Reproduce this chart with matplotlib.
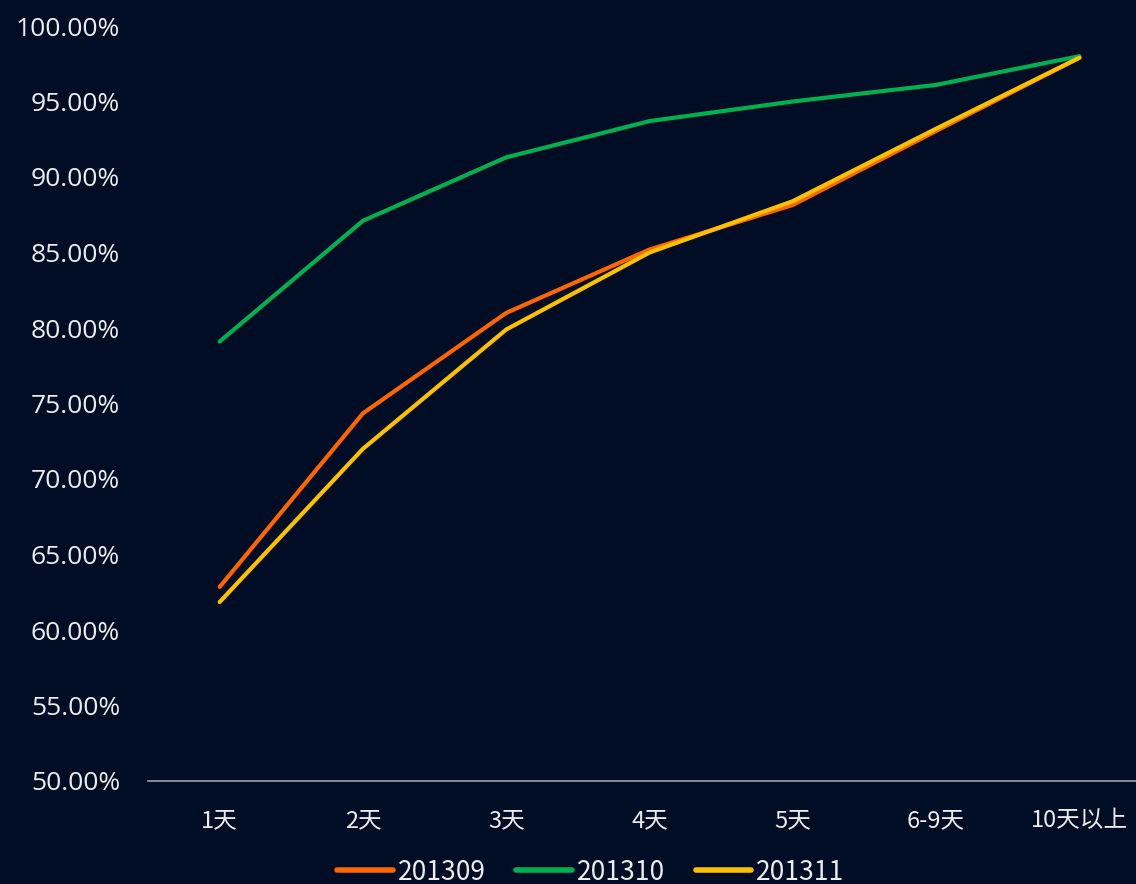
import matplotlib
matplotlib.use("Agg")
from matplotlib import pyplot as plt
from matplotlib.ticker import PercentFormatter

categories = ["1天", "2天", "3天", "4天", "5天", "6-9天", "10天以上"]
s201309 = [62.85, 74.35, 81.0, 85.2, 88.15, 93.05, 97.9]
s201310 = [79.1, 87.1, 91.3, 93.7, 95.0, 96.1, 98.0]
s201311 = [61.85, 72.0, 79.9, 85.0, 88.4, 93.2, 97.9]
series_names = ["201309", "201310", "201311"]
colors = ["#FF6600", "#00B050", "#FFC000"]

bg = "#000d24"
txt = "#ececec"
cjk = ["Noto Sans CJK SC", "DejaVu Sans"]

W, H = 1136, 884
fig = plt.figure(figsize=(W / 100, H / 100), dpi=100, facecolor=bg)
ax = fig.add_axes([148 / W, 103 / H, (W - 148) / W, (781 - 26) / H])
ax.set_facecolor(bg)

x = list(range(len(categories)))
for name, vals, c in zip(series_names, [s201309, s201310, s201311], colors):
    ax.plot(x, vals, color=c, lw=3.0, label=name, solid_capstyle="round")

ax.set_ylim(50, 100)
ax.set_yticks(range(50, 101, 5))
ax.yaxis.set_major_formatter(PercentFormatter(decimals=2))
ax.set_xlim(-0.5, -0.5 + (W - 148) / 143.3)
ax.set_xticks(x)
ax.set_xticklabels(categories, family=cjk, fontsize=17, color=txt)
for lbl in ax.get_yticklabels():
    lbl.set_family(["Open Sans", "DejaVu Sans"])
    lbl.set_fontsize(19)
    lbl.set_color(txt)
ax.tick_params(length=0)
ax.tick_params(axis="y", pad=20)
ax.tick_params(axis="x", pad=20)

for side in ["top", "right", "left"]:
    ax.spines[side].set_visible(False)
ax.spines["bottom"].set_color("#a0a0a0")
ax.spines["bottom"].set_linewidth(1.2)

leg = fig.legend(loc="center", bbox_to_anchor=(591 / W, 1 - 872 / H), ncol=3,
                 frameon=False, handlelength=2.1, handletextpad=0.2,
                 columnspacing=1.15, prop={"family": cjk, "size": 19})
for t in leg.get_texts():
    t.set_color(txt)
for h in leg.legend_handles:
    h.set_linewidth(4)

fig.savefig("out.png", dpi=100, facecolor=bg)
